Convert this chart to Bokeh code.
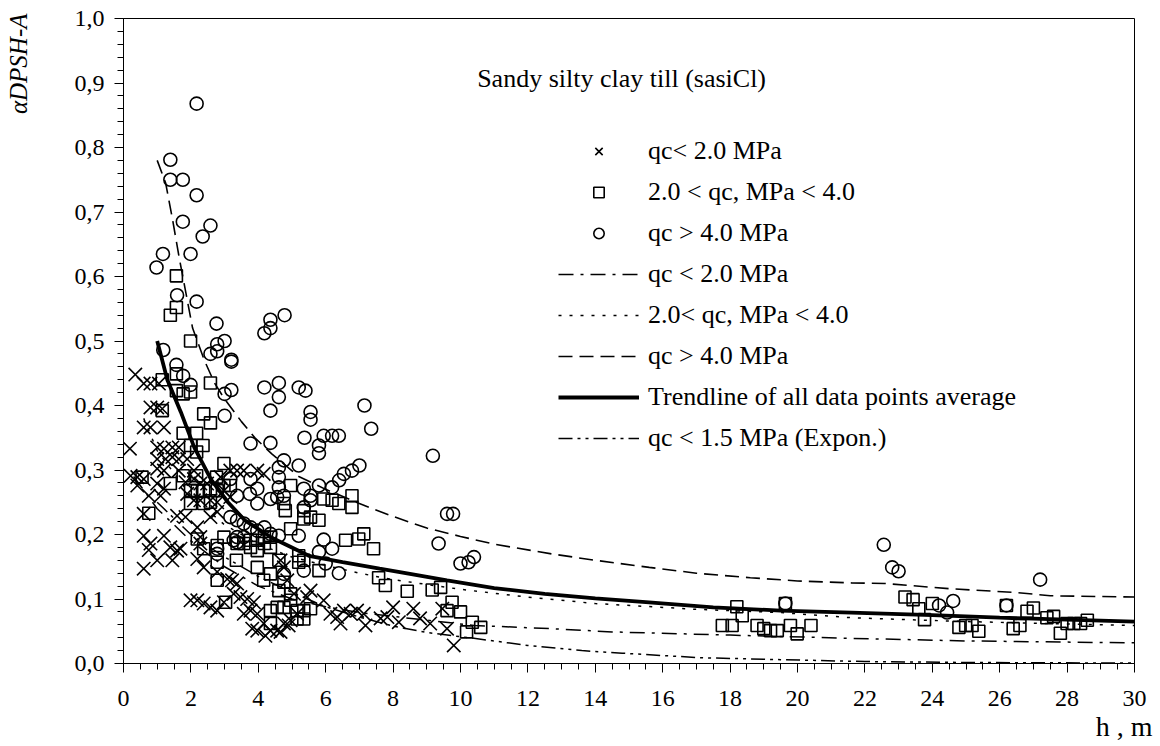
from bokeh.plotting import figure
from bokeh.models import (FixedTicker, CustomJSTickFormatter, Legend, LegendItem, Label, Title)
from bokeh.embed import file_html
from bokeh.resources import INLINE

FONT = "Liberation Serif"

# ---- data: qc < 2.0 MPa (crosses) ----
cross_x = [0.19, 0.35, 0.6, 0.8, 1.05, 0.8, 1.0, 1.15, 0.6, 0.8, 1.2, 1.0, 1.2, 1.45, 1.64, 1.0, 1.25, 1.45, 1.64, 1.89,
           0.21, 0.41, 0.6, 1.0, 1.2, 1.64, 2.09, 1.84, 2.09, 2.28, 2.48, 2.88, 0.41, 1.0, 1.2, 0.75, 1.1,
           3.17, 3.37, 3.57, 3.97, 4.16, 0.6, 1.59, 1.84, 1.89, 2.09, 2.28, 2.58, 2.78, 2.98, 3.17, 2.58, 2.78,
           0.6, 1.2, 0.8, 0.75, 1.0, 0.6, 1.45, 1.59, 1.39, 1.69, 2.19, 2.28, 2.28, 2.19, 2.38, 2.78, 3.08, 3.22, 3.37,
           1.99, 2.19, 2.38, 2.58, 2.78, 2.98, 3.27, 3.47, 3.67, 3.87, 3.57, 3.77, 3.97, 3.97, 4.16, 4.36, 4.56, 4.76,
           4.96, 5.15, 4.66, 4.76, 4.86, 5.06, 5.45, 5.55, 5.94, 6.14, 6.34, 6.54, 6.74, 6.93, 7.13,
           3.82, 4.21, 4.66, 4.9, 6.44, 7.18, 7.63, 7.83, 8.0, 8.17, 8.6, 8.8, 9.1, 9.46, 9.6, 9.8]
cross_y = [0.333, 0.448, 0.434, 0.434, 0.434, 0.397, 0.397, 0.395, 0.366, 0.366, 0.366, 0.335, 0.333, 0.335, 0.335, 0.317, 0.317, 0.32, 0.317, 0.317,
           0.291, 0.289, 0.286, 0.302, 0.299, 0.299, 0.299, 0.281, 0.286, 0.279, 0.279, 0.289, 0.276, 0.279, 0.271, 0.26, 0.26,
           0.299, 0.299, 0.299, 0.299, 0.294, 0.232, 0.229, 0.227, 0.263, 0.253, 0.253, 0.253, 0.25, 0.268, 0.258, 0.227, 0.235,
           0.198, 0.198, 0.186, 0.176, 0.16, 0.147, 0.16, 0.175, 0.18, 0.178, 0.211, 0.196, 0.186, 0.162, 0.149, 0.142, 0.131, 0.129, 0.124,
           0.098, 0.098, 0.093, 0.087, 0.082, 0.095, 0.108, 0.103, 0.1, 0.095, 0.077, 0.082, 0.077, 0.051, 0.062, 0.051, 0.051, 0.062,
           0.067, 0.077, 0.16, 0.149, 0.129, 0.108, 0.103, 0.113, 0.098, 0.077, 0.072, 0.082, 0.077, 0.082, 0.077,
           0.054, 0.043, 0.049, 0.059, 0.062, 0.059, 0.07, 0.072, 0.087, 0.064, 0.085, 0.07, 0.062, 0.085, 0.054, 0.028]

# ---- data: 2.0 < qc < 4.0 MPa (squares) ----
square_x = [1.57, 1.57, 1.39, 1.99, 1.15, 1.57, 1.57, 1.77, 1.99, 2.58, 1.15, 2.38, 2.58, 1.77, 2.17, 1.99, 2.36, 2.17,
            2.98, 1.77, 2.17, 0.55, 1.39, 2.76, 3.17, 2.98, 1.99, 2.19, 2.38, 2.58, 2.78, 1.99, 2.38, 2.58, 0.75,
            4.96, 4.76, 4.8, 5.35, 5.94, 6.19, 6.39, 6.78, 6.78, 5.35, 5.55, 5.8, 7.13, 6.98, 6.59, 4.96,
            2.98, 2.78, 3.37, 3.57, 3.77, 3.77, 3.97, 4.18, 4.18, 4.36, 3.97, 4.36, 2.19, 2.38, 3.35, 2.78, 2.78,
            3.97, 4.36, 4.16, 4.61, 5.2, 5.35, 5.2, 5.8, 4.76, 4.96, 4.61, 4.96, 4.36, 4.36, 4.56, 4.76, 5.15,
            5.35, 5.55, 5.35, 5.15, 3.03, 7.42, 7.57, 7.77, 8.42, 9.16, 9.41, 9.75, 9.6, 10.0, 10.35, 10.6, 10.18,
            17.77, 18.06, 18.2, 18.36, 18.8, 19.0, 19.2, 19.4, 19.79, 19.99, 20.4, 19.64,
            23.19, 23.43, 23.6, 23.77, 24.0, 24.79, 24.99, 25.18, 25.38, 26.2, 26.4, 26.6, 26.81, 27.0,
            27.4, 27.6, 27.8, 28.0, 28.2, 28.4, 28.6]
square_y = [0.601, 0.552, 0.540, 0.50, 0.44, 0.449, 0.423, 0.418, 0.421, 0.435, 0.392, 0.387, 0.373, 0.357, 0.357, 0.338, 0.338, 0.328,
            0.31, 0.291, 0.291, 0.289, 0.279, 0.289, 0.276, 0.276, 0.268, 0.268, 0.268, 0.271, 0.268, 0.248, 0.248, 0.25, 0.233,
            0.276, 0.248, 0.237, 0.237, 0.255, 0.253, 0.248, 0.26, 0.242, 0.224, 0.227, 0.222, 0.201, 0.193, 0.191, 0.209,
            0.196, 0.183, 0.186, 0.186, 0.191, 0.180, 0.191, 0.196, 0.186, 0.180, 0.175, 0.196, 0.193, 0.178, 0.160, 0.157, 0.129,
            0.149, 0.139, 0.129, 0.160, 0.167, 0.160, 0.157, 0.144, 0.126, 0.108, 0.113, 0.098, 0.082, 0.062, 0.087, 0.087, 0.082,
            0.082, 0.085, 0.069, 0.069, 0.095, 0.178, 0.133, 0.121, 0.112, 0.114, 0.118, 0.095, 0.082, 0.080, 0.064, 0.056, 0.049,
            0.059, 0.059, 0.088, 0.074, 0.059, 0.054, 0.051, 0.051, 0.059, 0.046, 0.059, 0.093,
            0.103, 0.099, 0.085, 0.068, 0.093, 0.056, 0.059, 0.059, 0.050, 0.090, 0.054, 0.059, 0.081, 0.086,
            0.071, 0.073, 0.047, 0.062, 0.062, 0.062, 0.067]

# ---- data: qc > 4.0 MPa (circles) ----
circle_x = [2.17, 1.39, 1.39, 1.76, 2.17, 1.76, 2.58, 2.35, 1.17, 1.99, 0.98, 1.59, 2.17, 2.76, 4.78, 4.36, 4.36, 4.18,
            3.0, 1.18, 2.78, 2.58, 2.78, 3.2, 3.2, 1.57, 1.77, 1.99, 3.2, 3.0, 4.18, 4.61, 4.61, 5.2, 5.4, 4.36, 3.0,
            5.55, 5.55, 7.15, 5.94, 6.19, 6.39, 5.37, 5.8, 5.8, 3.77, 4.36, 7.35, 4.76, 4.61, 5.2, 7.0, 6.78, 6.54,
            6.4, 6.19, 3.77, 4.61, 3.17, 5.8, 4.61, 4.56, 4.76, 3.97, 3.75, 3.37, 4.36, 5.35, 5.55, 3.97, 5.35,
            3.17, 3.37, 3.57, 3.77, 3.97, 4.18, 4.36, 3.27, 3.57, 4.61, 5.2, 5.94, 6.19, 2.78, 5.8, 4.76, 6.0, 6.39,
            5.35, 3.37, 3.37, 2.78, 5.55, 9.18, 9.6, 9.78, 9.35, 10.0, 10.24, 10.4,
            22.56, 22.81, 23.0, 27.2, 24.2, 24.62, 24.44, 26.2, 19.64]
circle_y = [0.868, 0.781, 0.750, 0.750, 0.726, 0.685, 0.679, 0.662, 0.635, 0.635, 0.614, 0.571, 0.561, 0.527, 0.540, 0.533, 0.520, 0.512,
            0.50, 0.486, 0.495, 0.48, 0.484, 0.471, 0.468, 0.463, 0.446, 0.432, 0.424, 0.418, 0.428, 0.435, 0.413, 0.428, 0.423, 0.392, 0.384,
            0.39, 0.378, 0.40, 0.353, 0.353, 0.353, 0.35, 0.338, 0.326, 0.341, 0.342, 0.364, 0.315, 0.304, 0.307, 0.307, 0.299, 0.294,
            0.284, 0.273, 0.286, 0.289, 0.286, 0.276, 0.273, 0.258, 0.26, 0.271, 0.263, 0.26, 0.255, 0.271, 0.26, 0.248, 0.242,
            0.227, 0.222, 0.217, 0.211, 0.206, 0.211, 0.201, 0.191, 0.196, 0.198, 0.198, 0.192, 0.178, 0.178, 0.173, 0.139, 0.155, 0.14,
            0.144, 0.196, 0.188, 0.170, 0.253, 0.322, 0.232, 0.232, 0.186, 0.155, 0.157, 0.165,
            0.184, 0.149, 0.143, 0.130, 0.090, 0.097, 0.079, 0.090, 0.093]

# ---- trend lines ----
lo_x = [0.3, 1.0, 2.0, 3.0, 4.0, 5.0, 6.0, 7.0, 8.0, 10.4, 12.7, 14.5, 18.0, 21.6, 25.0, 30.0]
lo_y = [0.29, 0.24, 0.19, 0.15, 0.12, 0.10, 0.088, 0.079, 0.073, 0.059, 0.054, 0.049, 0.044, 0.039, 0.035, 0.032]

mid_x = [0.6, 1.0, 2.0, 3.0, 4.0, 5.0, 6.0, 7.0, 8.0, 10.0, 12.0, 14.0, 17.0, 19.5, 21.6, 25.0, 30.0]
mid_y = [0.38, 0.33, 0.26, 0.215, 0.185, 0.165, 0.152, 0.14, 0.13, 0.115, 0.103, 0.093, 0.084, 0.079, 0.071, 0.065, 0.059]

hi_x = [1.0, 1.25, 1.45, 1.65, 1.85, 2.05, 2.4, 2.7, 3.0, 3.5, 3.9, 4.4, 5.2, 6.0, 7.0, 8.0, 9.0, 10.0, 11.0, 12.7,
        14.0, 15.6, 17.0, 18.6, 20.0, 21.6, 22.6, 24.5, 26.5, 27.5, 30.0]
hi_y = [0.78, 0.745, 0.69, 0.63, 0.575, 0.52, 0.47, 0.435, 0.41, 0.375, 0.35, 0.325, 0.29, 0.27, 0.248, 0.228, 0.21, 0.197,
        0.185, 0.17, 0.16, 0.149, 0.14, 0.133, 0.128, 0.125, 0.124, 0.116, 0.110, 0.105, 0.103]

avg_x = [1.0, 1.3, 1.7, 2.1, 2.6, 3.1, 3.6, 4.4, 5.5, 6.5, 7.6, 8.5, 9.6, 11.0, 12.5, 14.0, 15.5, 17.5, 19.5, 21.6,
         24.0, 26.0, 28.0, 30.0]
avg_y = [0.50, 0.44, 0.39, 0.335, 0.285, 0.25, 0.222, 0.195, 0.167, 0.157, 0.147, 0.139, 0.129, 0.117, 0.108, 0.101, 0.095,
         0.087, 0.082, 0.079, 0.075, 0.071, 0.068, 0.065]

exp_x = [1.0, 2.0, 3.0, 4.0, 5.0, 6.0, 7.0, 8.0, 9.0, 10.4, 12.0, 13.6, 14.8, 17.1, 19.5, 22.0, 25.0, 30.0]
exp_y = [0.25, 0.20, 0.165, 0.135, 0.11, 0.088, 0.072, 0.058, 0.048, 0.039, 0.028, 0.020, 0.016, 0.009, 0.006,
         0.003, 0.0016, 0.0006]

x_ticks = list(range(0, 31, 2))
y_ticks = [0.0, 0.1, 0.2, 0.3, 0.4, 0.5, 0.6, 0.7, 0.8, 0.9, 1.0]

legend_labels = ["qc< 2.0 MPa", "2.0 < qc, MPa < 4.0", "qc > 4.0 MPa", "qc < 2.0 MPa",
                 "2.0< qc, MPa < 4.0", "qc > 4.0 MPa", "Trendline of all data points average",
                 "qc < 1.5 MPa (Expon.)"]

p = figure(width=1160, height=746, x_range=(0, 30), y_range=(0, 1),
           output_backend="svg", toolbar_location=None, title=None,
           min_border_left=123, min_border_right=26, min_border_top=18, min_border_bottom=83)
p.xgrid.visible = False
p.ygrid.visible = False
p.outline_line_color = "black"
p.outline_line_width = 1
p.background_fill_color = "white"
p.border_fill_color = "white"

xa = p.xaxis[0]
ya = p.yaxis[0]
xa.ticker = FixedTicker(ticks=x_ticks, minor_ticks=[i * 0.5 for i in range(61)])
ya.ticker = FixedTicker(ticks=y_ticks, minor_ticks=[i * 0.02 for i in range(51)])
ya.formatter = CustomJSTickFormatter(code="return tick.toFixed(1).replace('.', ',');")
p.axis.major_tick_in = 0
p.axis.major_tick_out = 9
p.axis.minor_tick_in = 0
p.axis.minor_tick_out = 6
p.axis.axis_line_color = "black"
p.axis.major_tick_line_color = "black"
p.axis.minor_tick_line_color = "black"
p.axis.major_label_text_font = FONT
p.axis.major_label_text_font_size = "24px"
p.axis.major_label_text_color = "black"
xa.major_label_standoff = 18
ya.major_label_standoff = 10
# invisible spacer label that pushes the left title outward
ya.axis_label = " "
ya.axis_label_text_font_size = "1px"
ya.axis_label_text_alpha = 0
ya.axis_label_standoff = 36

r_cross = p.scatter(cross_x, cross_y, marker="x", size=19, line_color="black", line_width=1.6)
r_sq = p.scatter(square_x, square_y, marker="square", size=12, line_color="black", fill_color=None, line_width=1.6)
r_circ = p.scatter(circle_x, circle_y, marker="circle", size=13, line_color="black", fill_color=None, line_width=1.6)

r_lo = p.line(lo_x, lo_y, line_color="black", line_width=1.5, line_dash="15 7 3 7")
r_mid = p.line(mid_x, mid_y, line_color="black", line_width=1.5, line_dash="3 8")
r_hi = p.line(hi_x, hi_y, line_color="black", line_width=1.6, line_dash="14 7")
r_avg = p.line(avg_x, avg_y, line_color="black", line_width=3.8)
r_exp = p.line(exp_x, exp_y, line_color="black", line_width=1.5, line_dash="14 5 3 5 3 5")

renderers = [r_cross, r_sq, r_circ, r_lo, r_mid, r_hi, r_avg, r_exp]
legend = Legend(items=[LegendItem(label=l, renderers=[r]) for l, r in zip(legend_labels, renderers)],
                location=(435, 210), orientation="vertical",
                label_text_font=FONT, label_text_font_size="26px", label_text_color="black",
                background_fill_alpha=0, border_line_alpha=0, padding=0, margin=0,
                spacing=11, glyph_width=81, glyph_height=26, label_height=25, label_standoff=9)
p.add_layout(legend)

p.add_layout(Label(x=14.78, y=0.907, text="Sandy silty clay till (sasiCl)", text_font=FONT,
                   text_font_size="26px", text_align="center", text_baseline="middle", text_color="black"))

# axis titles in side panels
p.add_layout(Title(text="αDPSH-A", align="right", offset=-5, standoff=0, text_font=FONT,
                   text_font_style="italic", text_font_size="25px", text_color="black"), "left")
p.add_layout(Title(text="h , m", align="right", offset=-18, standoff=0, text_font=FONT,
                   text_font_style="normal", text_font_size="28px", text_color="black"), "below")

open("out.html", "w").write(file_html(p, INLINE))
